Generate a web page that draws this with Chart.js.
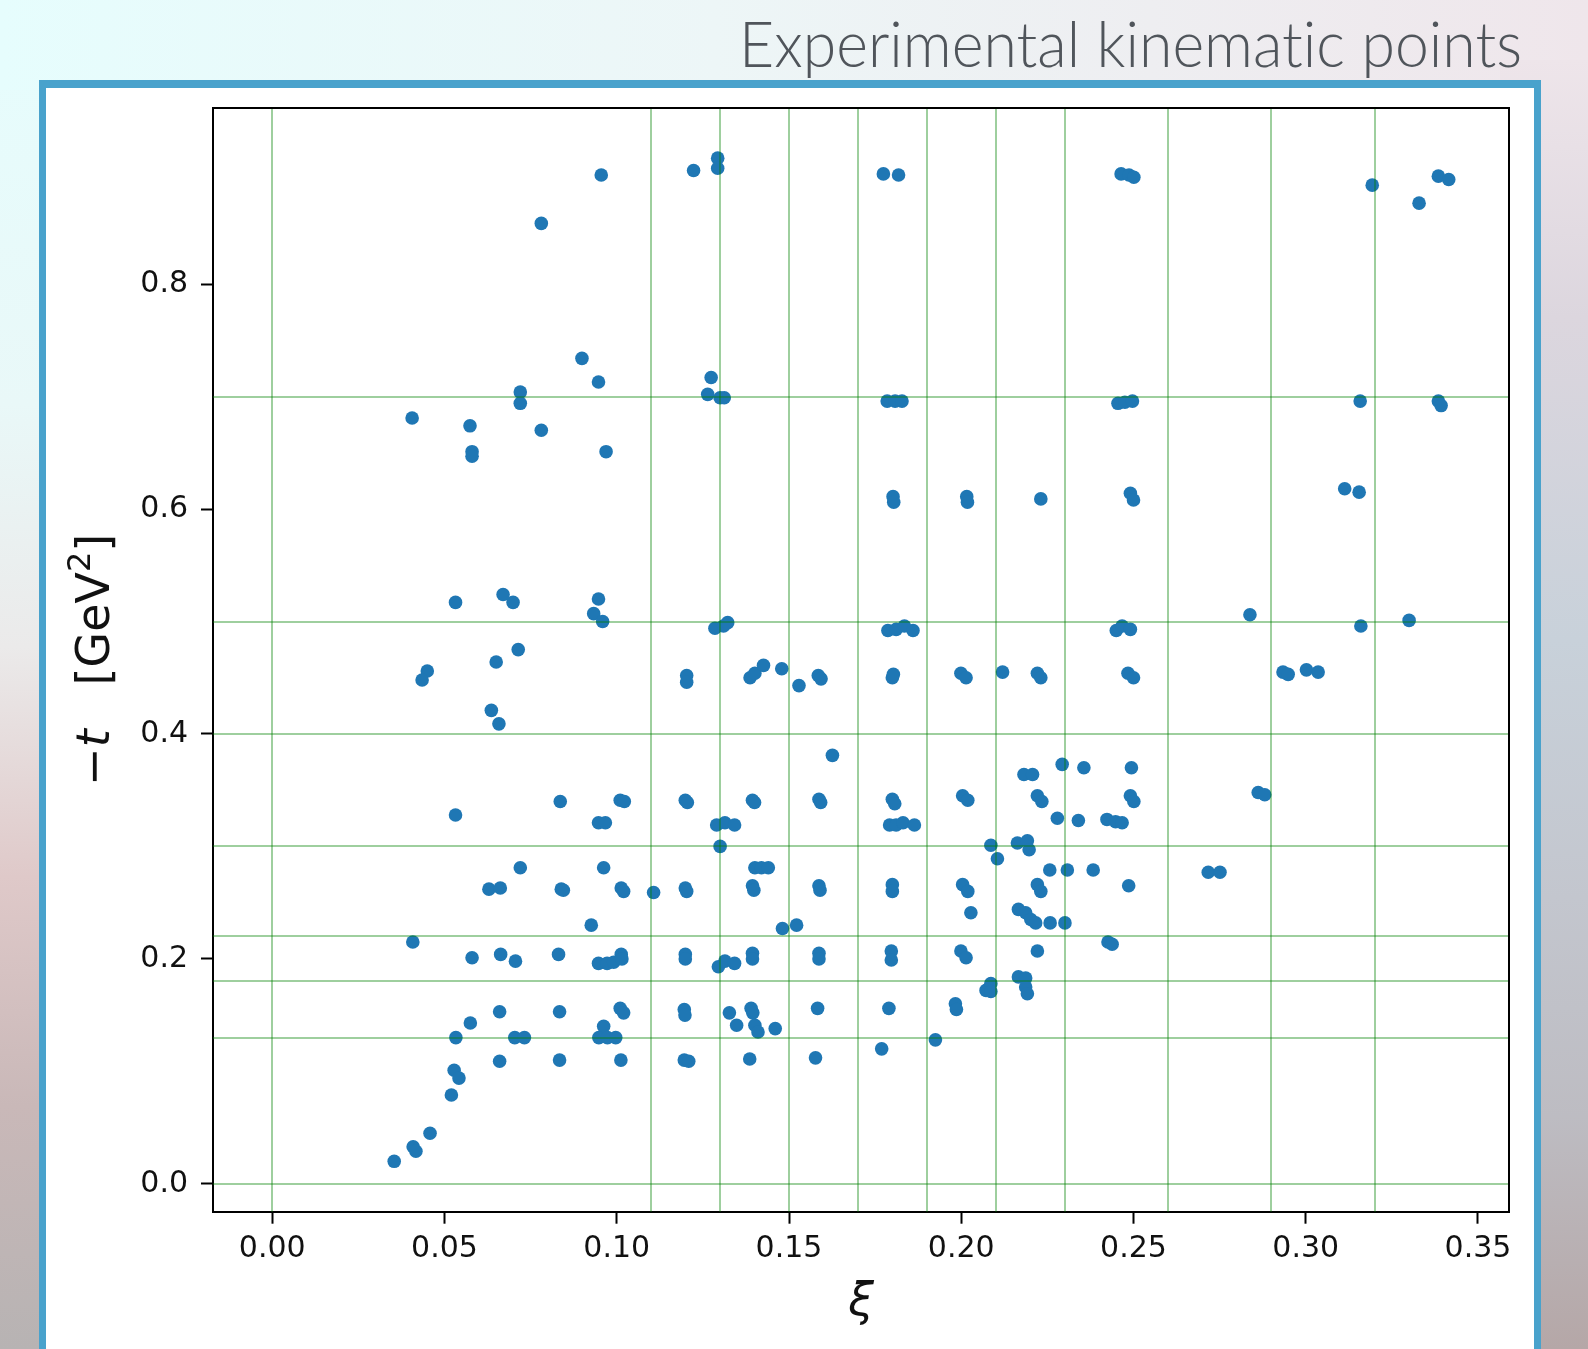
<!DOCTYPE html>
<html>
<head>
<meta charset="utf-8">
<title>Experimental kinematic points</title>
<script src="https://cdn.jsdelivr.net/npm/chart.js@4.4.1/dist/chart.umd.min.js"></script>
<style>
  html, body { margin: 0; padding: 0; }
  body {
    width: 1588px; height: 1349px; overflow: hidden; position: relative;
    background: linear-gradient(to bottom, #e6fdfd 0%, #e9f8f8 30%, #ebeaea 48%, #dfc9c9 65%, #c9b8b8 82%, #b7b3b3 100%);
  }
  #topband {
    position: absolute; left: 0; top: 0; width: 1588px; height: 90px;
    background: linear-gradient(to right, #e6fdfd 0%, #edf6f7 45%, #efe6eb 100%);
  }
  #rightside {
    position: absolute; left: 1500px; top: 60px; width: 88px; height: 1289px;
    background: linear-gradient(to bottom, #eee5ea 0%, #dcd6de 20%, #c8d1da 45%, #c3c6ce 65%, #bdbcc2 82%, #b5a7a7 100%);
  }
  #panel {
    position: absolute; left: 39px; top: 80px; width: 1502px; height: 1320px;
    box-sizing: border-box; background: #fff;
    border: solid #49a2cc; border-width: 8px 7px 0 7px;
  }
  #heading { position: absolute; left: 0; top: 0; font-variant-ligatures: none; }
  #plot { position: absolute; left: 0; top: 0; }
</style>
</head>
<body>
<div id="topband"></div>
<div id="rightside"></div>
<div id="panel"></div>
<svg id="heading" width="1588" height="100">
  <text x="1522" y="67" text-anchor="end" font-family="Lato" font-weight="300" font-size="63"
        fill="#50555b" textLength="783" lengthAdjust="spacingAndGlyphs">Experimental kinematic points</text>
</svg>
<canvas id="plot" width="1588" height="1349"></canvas>
<script>
// kinematic points, grouped by -t band: xi values and matching -t values [GeV^2]
const xiTop = [0.0955, 0.1223, 0.1293, 0.1293, 0.1774, 0.1818, 0.2464, 0.2487, 0.2501, 0.3193, 0.3329, 0.3385, 0.3415, 0.0781];
const tTop  = [0.897, 0.901, 0.912, 0.903, 0.898, 0.897, 0.898, 0.897, 0.895, 0.888, 0.872, 0.896, 0.893, 0.854];

const xi70 = [0.0899, 0.0947, 0.1274, 0.1264, 0.1300, 0.1312, 0.0720, 0.0720, 0.0406, 0.0574, 0.0580, 0.0580, 0.0781, 0.0969, 0.1785, 0.1808, 0.1828, 0.2455, 0.2475, 0.2497, 0.3158, 0.3385, 0.3393];
const t70  = [0.734, 0.713, 0.717, 0.702, 0.699, 0.699, 0.704, 0.694, 0.681, 0.674, 0.651, 0.647, 0.670, 0.651, 0.696, 0.696, 0.696, 0.694, 0.695, 0.696, 0.696, 0.696, 0.692];

const xi60 = [0.1802, 0.1804, 0.2016, 0.2018, 0.2231, 0.2491, 0.2500, 0.3113, 0.3155];
const t60  = [0.611, 0.606, 0.611, 0.606, 0.609, 0.614, 0.608, 0.618, 0.615];

const xi50 = [0.0532, 0.0670, 0.0699, 0.0947, 0.0933, 0.0959, 0.1285, 0.1310, 0.1322, 0.1787, 0.1811, 0.1835, 0.1860, 0.2450, 0.2467, 0.2491, 0.2838, 0.3160, 0.3300];
const t50  = [0.517, 0.524, 0.517, 0.520, 0.507, 0.500, 0.494, 0.496, 0.499, 0.492, 0.493, 0.496, 0.492, 0.492, 0.496, 0.493, 0.506, 0.496, 0.501];

const xi45 = [0.0450, 0.0435, 0.0650, 0.0714, 0.1203, 0.1203, 0.1387, 0.1401, 0.1426, 0.1479, 0.1529, 0.1585, 0.1593, 0.1800, 0.1803, 0.1999, 0.2014, 0.2120, 0.2221, 0.2231, 0.2484, 0.2500, 0.2934, 0.2949, 0.3002, 0.3036];
const t45  = [0.456, 0.448, 0.464, 0.475, 0.452, 0.446, 0.450, 0.454, 0.461, 0.458, 0.443, 0.452, 0.449, 0.450, 0.453, 0.454, 0.450, 0.455, 0.454, 0.450, 0.454, 0.450, 0.455, 0.453, 0.457, 0.455];

const xi40 = [0.0636, 0.0658, 0.1626];
const t40  = [0.421, 0.409, 0.381];

const xi34 = [0.2182, 0.2207, 0.2293, 0.2356, 0.2494, 0.0532, 0.0836, 0.1010, 0.1022, 0.1199, 0.1205, 0.1394, 0.1400, 0.1587, 0.1592, 0.1800, 0.1807, 0.2004, 0.2019, 0.2221, 0.2234, 0.2491, 0.2501, 0.2862, 0.2881];
const t34  = [0.364, 0.364, 0.373, 0.370, 0.370, 0.328, 0.340, 0.341, 0.340, 0.341, 0.339, 0.341, 0.339, 0.342, 0.339, 0.342, 0.338, 0.345, 0.341, 0.345, 0.340, 0.345, 0.340, 0.348, 0.346];

const xi32 = [0.0947, 0.0967, 0.1290, 0.1314, 0.1342, 0.1792, 0.1811, 0.1831, 0.1864, 0.2279, 0.2340, 0.2423, 0.2448, 0.2467];
const t32  = [0.321, 0.321, 0.319, 0.321, 0.319, 0.319, 0.319, 0.321, 0.319, 0.325, 0.323, 0.324, 0.322, 0.321];

const xi28 = [0.1300, 0.2086, 0.2105, 0.2163, 0.2192, 0.2197, 0.0720, 0.0962, 0.1401, 0.1420, 0.1440, 0.2257, 0.2308, 0.2383, 0.2717, 0.2751];
const t28  = [0.300, 0.301, 0.289, 0.303, 0.305, 0.297, 0.281, 0.281, 0.281, 0.281, 0.281, 0.279, 0.279, 0.279, 0.277, 0.277];

const xi26 = [0.0629, 0.0662, 0.0839, 0.0845, 0.1013, 0.1020, 0.1107, 0.1199, 0.1203, 0.1394, 0.1398, 0.1587, 0.1590, 0.1800, 0.1800, 0.2004, 0.2019, 0.2221, 0.2231, 0.2486];
const t26  = [0.262, 0.263, 0.262, 0.261, 0.263, 0.260, 0.259, 0.263, 0.260, 0.265, 0.261, 0.265, 0.261, 0.266, 0.260, 0.266, 0.260, 0.266, 0.260, 0.265];

const xi23 = [0.2028, 0.2166, 0.2187, 0.2202, 0.2216, 0.2258, 0.2301, 0.0926, 0.1481, 0.1522, 0.2426, 0.2438, 0.0408];
const t23  = [0.241, 0.244, 0.241, 0.235, 0.232, 0.232, 0.232, 0.230, 0.227, 0.230, 0.215, 0.213, 0.215];

const xi20 = [0.0580, 0.0663, 0.0706, 0.0831, 0.0947, 0.0972, 0.0991, 0.1013, 0.1015, 0.1199, 0.1199, 0.1295, 0.1314, 0.1342, 0.1394, 0.1394, 0.1587, 0.1587, 0.1797, 0.1797, 0.1999, 0.2014, 0.2221];
const t20  = [0.201, 0.204, 0.198, 0.204, 0.196, 0.196, 0.197, 0.204, 0.200, 0.204, 0.200, 0.193, 0.198, 0.196, 0.205, 0.200, 0.205, 0.200, 0.207, 0.199, 0.207, 0.201, 0.207];

const xi17 = [0.2166, 0.2187, 0.2187, 0.2192, 0.2072, 0.2086, 0.2086];
const t17  = [0.184, 0.183, 0.175, 0.169, 0.172, 0.178, 0.171];

const xi15 = [0.0575, 0.0660, 0.0834, 0.1010, 0.1020, 0.1196, 0.1198, 0.1327, 0.1348, 0.1390, 0.1395, 0.1401, 0.1410, 0.1460, 0.1583, 0.1790, 0.1983, 0.1986, 0.0962];
const t15  = [0.143, 0.153, 0.153, 0.156, 0.152, 0.155, 0.150, 0.152, 0.141, 0.156, 0.152, 0.141, 0.135, 0.138, 0.156, 0.156, 0.160, 0.155, 0.140];

const xi13 = [0.0533, 0.0704, 0.0732, 0.0948, 0.0973, 0.0997, 0.1925];
const t13  = [0.130, 0.130, 0.130, 0.130, 0.130, 0.130, 0.128];

const xi11 = [0.0660, 0.0834, 0.1012, 0.1196, 0.1209, 0.1386, 0.1577, 0.1769];
const t11  = [0.109, 0.110, 0.110, 0.110, 0.109, 0.111, 0.112, 0.120];

const xiLow = [0.0528, 0.0542, 0.0520, 0.0458, 0.0409, 0.0417, 0.0354];
const tLow  = [0.101, 0.094, 0.079, 0.045, 0.033, 0.029, 0.020];

// axis ticks and the bin edges drawn as green lines
const xiTicks = [0, 0.05, 0.10, 0.15, 0.20, 0.25, 0.30, 0.35];
const tTicks = [0.0, 0.2, 0.4, 0.6, 0.8];
const xiBins = [0, 0.11, 0.13, 0.15, 0.17, 0.19, 0.21, 0.23, 0.26, 0.29, 0.32];
const tBins = [0, 0.13, 0.18, 0.22, 0.30, 0.40, 0.50, 0.70];

const xiAll = [].concat(xiTop, xi70, xi60, xi50, xi45, xi40, xi34, xi32, xi28, xi26, xi23, xi20, xi17, xi15, xi13, xi11, xiLow);
const tAll = [].concat(tTop, t70, t60, t50, t45, t40, t34, t32, t28, t26, t23, t20, t17, t15, t13, t11, tLow);
const points = xiAll.map((x, i) => ({ x: x, y: tAll[i] }));

const X_MIN = -0.0172, X_MAX = 0.359;
const Y_MIN = -0.0248, Y_MAX = 0.9566;

const tickFont = { family: 'DejaVu Sans', size: 30 };
const labelFont = { family: 'DejaVu Sans', size: 46 };
const binGrid = { color: 'rgba(0, 128, 0, 0.38)', lineWidth: 2, drawTicks: false, z: 1 };
const frame = { display: true, color: '#000', width: 2, z: 1 };

// y label "−t [GeV²]" with an italic t and a raised 2, drawn along the left axis
const yLabelParts = [
  { text: '−', font: '46px "DejaVu Sans"', rise: 0 },
  { text: 't', font: 'italic 46px "DejaVu Sans"', rise: 0 },
  { text: '   [GeV', font: '46px "DejaVu Sans"', rise: 0 },
  { text: '2', font: '32px "DejaVu Sans"', rise: 19 },
  { text: ']', font: '46px "DejaVu Sans"', rise: 0 }
];

const yLabel = {
  id: 'yLabel',
  afterDraw(chart) {
    const { ctx, chartArea } = chart;
    ctx.save();
    let total = 0;
    const widths = yLabelParts.map(p => { ctx.font = p.font; const w = ctx.measureText(p.text).width; total += w; return w; });
    ctx.translate(chart.scales.y.left + 49, (chartArea.top + chartArea.bottom) / 2);
    ctx.rotate(-Math.PI / 2);
    ctx.fillStyle = '#111';
    ctx.textBaseline = 'alphabetic';
    let pos = -total / 2;
    yLabelParts.forEach((p, i) => {
      ctx.font = p.font;
      ctx.fillText(p.text, pos, -p.rise);
      pos += widths[i];
    });
    ctx.restore();
  }
};

new Chart(document.getElementById('plot'), {
  type: 'scatter',
  data: {
    datasets: [{
      data: points,
      pointRadius: 6.8,
      pointBorderWidth: 0,
      pointBackgroundColor: '#1f77b4'
    }]
  },
  options: {
    responsive: false,
    devicePixelRatio: 1,
    animation: false,
    events: [],
    layout: { autoPadding: false, padding: { left: 60, right: 79, top: 108, bottom: 10 } },
    plugins: { legend: { display: false }, tooltip: { enabled: false } },
    scales: {
      x: {
        type: 'linear', position: 'bottom', bounds: 'data', min: X_MIN, max: X_MAX,
        afterBuildTicks: s => { s.ticks = xiTicks.map(v => ({ value: v })); },
        afterFit: s => { s.height = 127.3; },
        ticks: { callback: v => v.toFixed(2), font: tickFont, color: '#111', padding: 8, maxRotation: 0, autoSkip: false },
        grid: { drawOnChartArea: false, drawTicks: true, tickLength: 12, tickWidth: 2, tickColor: '#000' },
        border: { display: true, color: '#000', width: 2 },
        title: { display: true, text: 'ξ', font: Object.assign({ style: 'italic' }, labelFont), color: '#111', padding: { top: 0, bottom: 8 } }
      },
      y: {
        type: 'linear', position: 'left', bounds: 'data', min: Y_MIN, max: Y_MAX,
        afterBuildTicks: s => { s.ticks = tTicks.map(v => ({ value: v })); },
        afterFit: s => { s.width = 153; },
        ticks: { callback: v => v.toFixed(1), font: tickFont, color: '#111', padding: 13, autoSkip: false },
        grid: { drawOnChartArea: false, drawTicks: true, tickLength: 12, tickWidth: 2, tickColor: '#000' },
        border: { display: true, color: '#000', width: 2 }
      },
      xBins: {
        type: 'linear', position: 'top', bounds: 'data', min: X_MIN, max: X_MAX,
        afterBuildTicks: s => { s.ticks = xiBins.map(v => ({ value: v })); },
        afterFit: s => { s.height = 0; },
        ticks: { display: false },
        grid: binGrid,
        border: frame
      },
      yBins: {
        type: 'linear', position: 'right', bounds: 'data', min: Y_MIN, max: Y_MAX,
        afterBuildTicks: s => { s.ticks = tBins.map(v => ({ value: v })); },
        afterFit: s => { s.width = 0; },
        ticks: { display: false },
        grid: binGrid,
        border: frame
      }
    }
  },
  plugins: [yLabel]
});
</script>
</body>
</html>
